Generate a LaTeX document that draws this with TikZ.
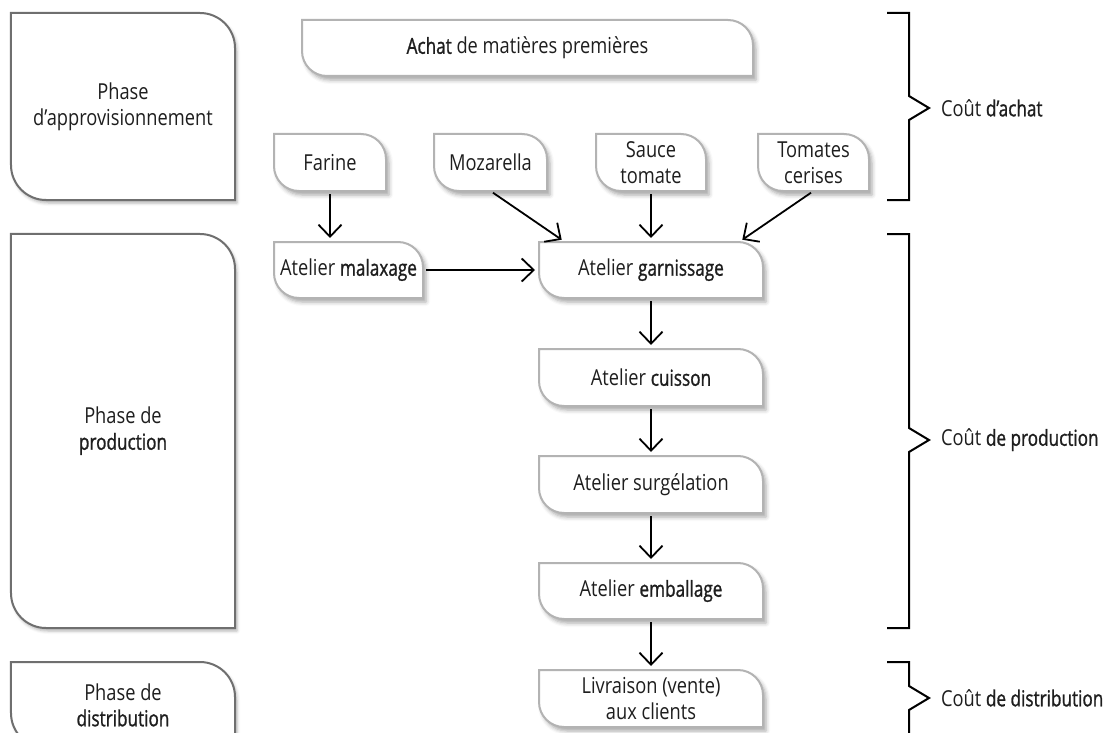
\documentclass[tikz,border=0pt]{standalone}
\usepackage{fontspec}
\setmainfont[FakeStretch=0.83]{Open Sans}
\newfontfamily\strongfont[FakeStretch=0.78,FakeBold=1.1]{Open Sans}
\newcommand\hl[1]{{\strongfont #1}}
\usetikzlibrary{arrows.meta,calc,shadows.blur}
\pgfdeclarelayer{background}
\pgfsetlayers{background,main}

\definecolor{ink}{HTML}{1E1E1E}
\definecolor{phaseline}{HTML}{6F6F6F}
\definecolor{flowline}{HTML}{B3B3B3}

% card outline: square top-left and bottom-right corners, rounded top-right and bottom-left
\newcommand\cardframe[3]{%
  \draw[#3] (#1.north west) -- ([xshift=-#2bp]#1.north east)
    arc[start angle=90,end angle=0,radius=#2bp] -- (#1.south east)
    -- ([xshift=#2bp]#1.south west)
    arc[start angle=270,end angle=180,radius=#2bp] -- cycle;}

\tikzset{
  x=1bp, y=1bp,
  every node/.style={font=\fontsize{22bp}{26bp}\selectfont, text=ink, align=center,
                     inner sep=0pt, outer sep=0pt},
  phasecard/.style={draw=phaseline, line width=2bp, fill=white,
                    blur shadow={shadow xshift=2bp, shadow yshift=-3bp,
                                 shadow blur radius=3bp, shadow opacity=30}},
  flowcard/.style={draw=flowline, line width=2bp, fill=white,
                   blur shadow={shadow xshift=3bp, shadow yshift=-4bp,
                                shadow blur radius=4bp, shadow opacity=35}},
  flowarrow/.style={draw=black, line width=1.8bp, shorten <=3bp, shorten >=4bp,
                    -{Straight Barb[length=12bp,width=23bp]}},
  bracket/.style={draw=black, line width=2bp, line join=miter},
  costlabel/.style={anchor=west},
}

\begin{document}
\begin{tikzpicture}
\path[use as bounding box] (0,0) rectangle (1104,-733);
\clip (0,0) rectangle (1104,-733);

% phases (left column)
\node[minimum width=224bp, minimum height=187bp] (appro) at (123,-106.5) {Phase\\d’approvisionnement};
\node[minimum width=224bp, minimum height=394bp] (prod) at (123,-431) {Phase de\\\hl{production}};
\node[minimum width=224bp, minimum height=86bp] (distr) at (123,-705) {Phase de\\\hl{distribution}};

% purchase
\node[minimum width=451bp, minimum height=56bp] (achat) at (527.5,-48) {\hl{Achat} de matières premières};
\node[minimum width=112bp, minimum height=57bp] (farine) at (330,-162.5) {Farine};
\node[minimum width=113bp, minimum height=57bp] (moza) at (490.5,-162.5) {Mozarella};
\node[minimum width=110bp, minimum height=57bp] (sauce) at (651,-162.5) {Sauce\\tomate};
\node[minimum width=111bp, minimum height=57bp] (tomates) at (813.5,-162.5) {Tomates\\cerises};

% workshops
\node[minimum width=149bp, minimum height=56bp] (malax) at (348.5,-270) {Atelier \hl{malaxage}};
\node[minimum width=224bp, minimum height=56bp] (garn) at (651,-270) {Atelier \hl{garnissage}};
\node[minimum width=224bp, minimum height=57bp] (cuis) at (651,-377.5) {Atelier \hl{cuisson}};
\node[minimum width=224bp, minimum height=57bp] (surg) at (651,-484.5) {Atelier surgélation};
\node[minimum width=224bp, minimum height=56bp] (emb) at (651,-591) {Atelier \hl{emballage}};
\node[minimum width=224bp, minimum height=57bp] (livr) at (651,-698.5) {Livraison (vente)\\aux clients};

\begin{pgfonlayer}{background}
  \foreach \n in {appro,prod,distr} {\cardframe{\n}{35}{phasecard}}
  \foreach \n in {achat,farine,moza,sauce,tomates,malax,garn,cuis,surg,emb,livr}
    {\cardframe{\n}{25}{flowcard}}
\end{pgfonlayer}

% flow
\draw[flowarrow] (farine.south) -- (farine.south |- malax.north);
\draw[flowarrow] (moza.south) -- ($(garn.north west)+(26,0)$);
\draw[flowarrow] (sauce.south) -- (sauce.south |- garn.north);
\draw[flowarrow] (tomates.south) -- ($(garn.north east)+(-24,0)$);
\draw[flowarrow] (malax) -- (garn);
\draw[flowarrow] (garn) -- (cuis);
\draw[flowarrow] (cuis) -- (surg);
\draw[flowarrow] (surg) -- (emb);
\draw[flowarrow] (emb) -- (livr);

% cost brackets
\draw[bracket] (887,-13) -- (909,-13) -- (909,-96) -- (929,-108) -- (909,-120) -- (909,-200) -- (887,-200);
\draw[bracket] (887,-234) -- (909,-234) -- (909,-428) -- (929,-440) -- (909,-452) -- (909,-628) -- (887,-628);
\draw[bracket] (887,-662) -- (909,-662) -- (909,-686) -- (929,-698) -- (909,-710) -- (909,-745);

\node[costlabel] (cachat) at (941,-108) {Coût \hl{d’achat}};
\node[costlabel] (cprod) at (941,-440) {Coût \hl{de production}};
\node[costlabel] (cdistr) at (941,-698) {Coût \hl{de distribution}};
\end{tikzpicture}
\end{document}
